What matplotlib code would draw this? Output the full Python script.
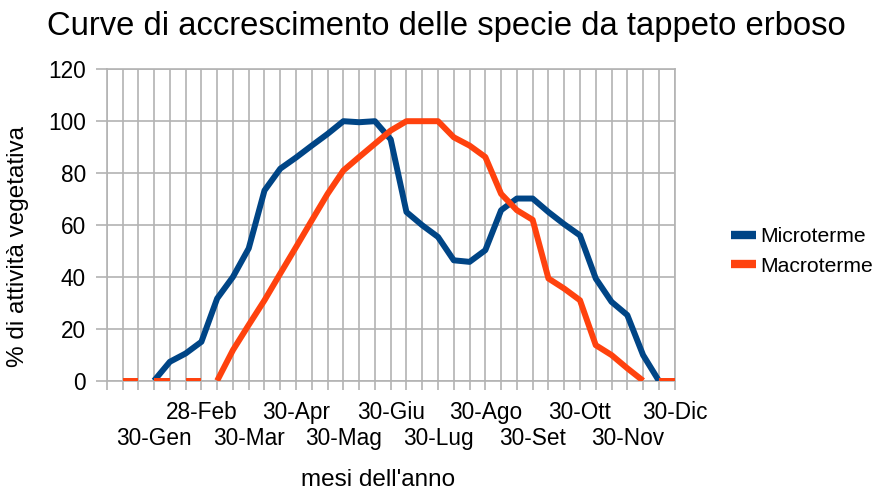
import numpy as np
import matplotlib
matplotlib.use("Agg")
from matplotlib import pyplot as plt
from matplotlib.transforms import blended_transform_factory

plt.rcParams['font.family'] = ['Liberation Sans', 'DejaVu Sans']

# one point every ~10 days, 37 points (index 0 .. 36), labelled every 3rd
n_punti = 37
mesi = ['30-Gen', '28-Feb', '30-Mar', '30-Apr', '30-Mag', '30-Giu',
        '30-Lug', '30-Ago', '30-Set', '30-Ott', '30-Nov', '30-Dic']
idx_mesi = [3, 6, 9, 12, 15, 18, 21, 24, 27, 30, 33, 36]

# Microterme: from index 3 to 35
micro_idx = list(range(3, 36))
micro = [0, 7.3, 10.5, 15, 31.7, 40, 51, 73.3, 81.7, 86, 90.6, 95.1, 100,
         99.6, 100, 93, 65, 59.9, 55.4, 46.4, 45.8, 50.3, 65.7, 70.2, 70.2,
         65, 60.3, 56, 39.4, 30.4, 25.3, 9.9, 0]

# Macroterme: from index 7 to 34, plus short flat pieces at zero
macro_idx = list(range(7, 35))
macro = [0, 11.8, 21.5, 31, 41.3, 51.5, 61.8, 72, 81, 86.2, 91.3, 96.4,
         100, 100, 100, 93.8, 90.6, 86.2, 72, 65.7, 62, 39.4, 35.5, 31,
         13.7, 9.9, 4.8, 0]
macro_zero = [(1, 2), (3, 4), (5, 6), (35, 36)]

blu = '#004586'
arancio = '#ff420e'
griglia = '#b3b3b3'

fig = plt.figure(figsize=(8.75, 4.9), dpi=100)
ax = fig.add_axes([0.122, 0.223, 0.649, 0.6356])

lw = 4.3
ax.plot(micro_idx, micro, color=blu, lw=lw, solid_capstyle='butt',
        solid_joinstyle='round', label='Microterme', zorder=3)
ax.plot(macro_idx, macro, color=arancio, lw=lw, solid_capstyle='butt',
        solid_joinstyle='round', label='Macroterme', zorder=4)
for a, b in macro_zero:
    ax.plot([a, b], [0, 0], color=arancio, lw=lw, solid_capstyle='butt',
            zorder=4)

ax.set_xlim(0, n_punti - 1)
ax.set_ylim(0, 120)
ax.set_yticks(np.arange(0, 121, 20))
ax.set_xticks(np.arange(n_punti))
ax.set_xticklabels([])
ax.grid(True, color=griglia, lw=1.2)
ax.set_axisbelow(True)
for s in ax.spines.values():
    s.set_color(griglia)
    s.set_linewidth(1.2)
ax.tick_params(axis='both', direction='out', color=griglia, width=1.2,
               labelsize=16.3)
ax.tick_params(axis='x', length=6.5)
ax.tick_params(axis='y', length=8, pad=7)

trans = blended_transform_factory(ax.transData, ax.transAxes)
for k, (i, m) in enumerate(zip(idx_mesi, mesi)):
    y = -0.1005 if k % 2 == 1 else -0.184
    ax.text(i, y, m, transform=trans, ha='center', va='center', fontsize=16.3)

fig.text(0.51, 0.945, 'Curve di accrescimento delle specie da tappeto erboso',
         ha='center', va='center', fontsize=23.6)
fig.text(0.021, 0.497, '% di attività vegetativa', rotation=90,
         ha='center', va='center', fontsize=17.5)
fig.text(0.432, 0.02, "mesi dell'anno", ha='center', va='center',
         fontsize=17.5)

leg = fig.legend(loc='center left', bbox_to_anchor=(0.8135, 0.487),
                 frameon=False, fontsize=15.2, handlelength=1.2,
                 handletextpad=0.2, labelspacing=0.5)
for h in leg.get_lines():
    h.set_linewidth(6)
    h.set_solid_capstyle('butt')

fig.savefig('out.png', dpi=100)
